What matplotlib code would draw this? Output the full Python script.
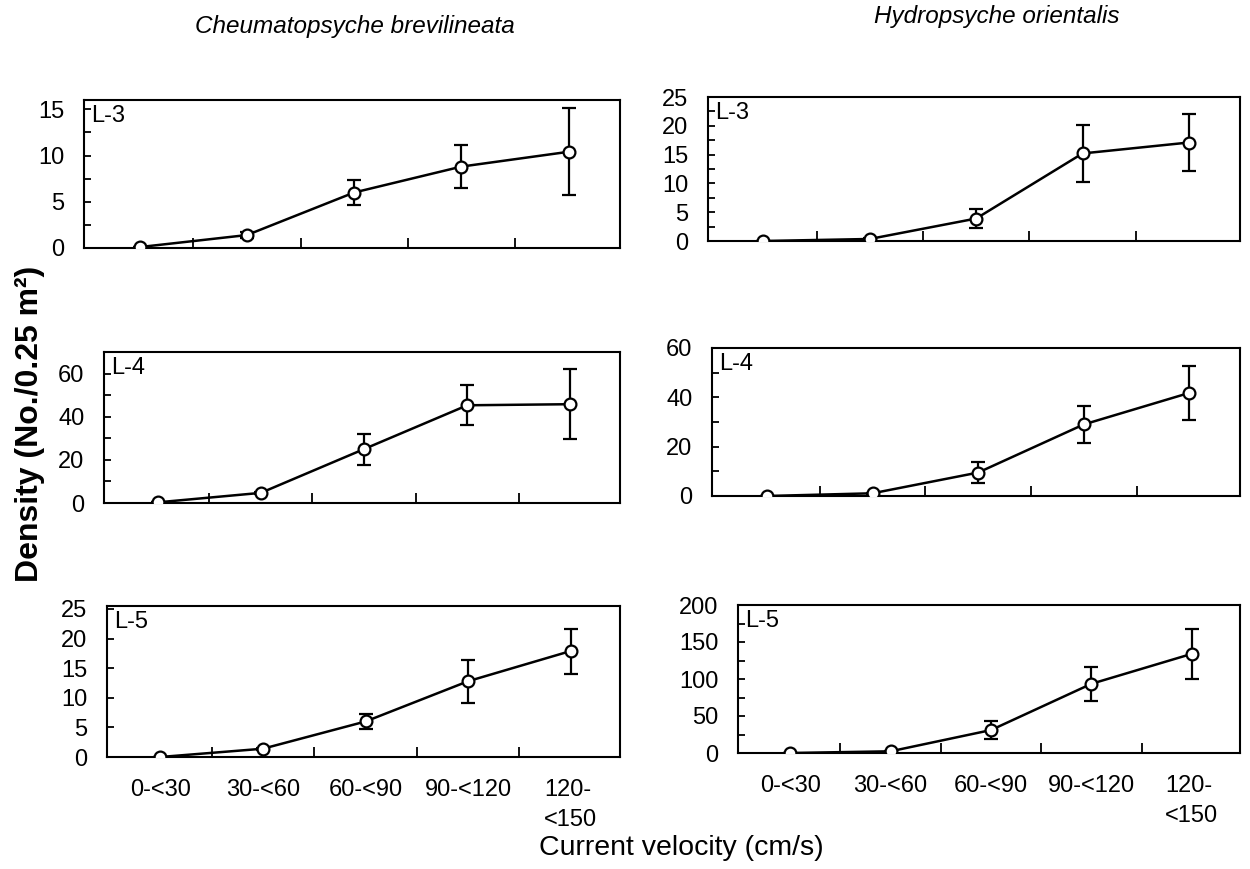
import matplotlib
matplotlib.use("Agg")
import matplotlib.pyplot as plt
from matplotlib.ticker import MultipleLocator, FixedLocator

plt.rcParams['font.family'] = ['Liberation Sans', 'DejaVu Sans']

categories = ["0-<30", "30-<60", "60-<90", "90-<120", "120-\n<150"]

# Cheumatopsyche brevilineata
cb_L3 = [0.1, 1.4, 6.0, 8.8, 10.4]
cb_L3_err = [0.0, 0.3, 1.3, 2.3, 4.7]
cb_L4 = [0.3, 4.7, 25.0, 45.3, 45.8]
cb_L4_err = [0.0, 0.5, 7.2, 9.3, 16.3]
cb_L5 = [0.0, 1.4, 6.0, 12.8, 17.9]
cb_L5_err = [0.0, 0.2, 1.2, 3.6, 3.8]

# Hydropsyche orientalis
ho_L3 = [0.0, 0.35, 3.9, 15.2, 17.1]
ho_L3_err = [0.0, 0.1, 1.6, 5.0, 5.0]
ho_L4 = [0.0, 1.1, 9.5, 29.0, 41.8]
ho_L4_err = [0.0, 0.3, 4.2, 7.5, 10.8]
ho_L5 = [0.0, 2.3, 31.0, 93.5, 134.0]
ho_L5_err = [0.0, 0.5, 12.0, 23.0, 34.0]

stages = ["L-3", "L-4", "L-5"]
titles = ["Cheumatopsyche brevilineata", "Hydropsyche orientalis"]

panels = [
    # (values, errors, ylim top, major, minor, rect in px: left, top, right, bottom)
    (cb_L3, cb_L3_err, 16, 5, 2.5, [84, 100, 620, 248]),
    (ho_L3, ho_L3_err, 25, 5, 2.5, [708, 97, 1240, 241]),
    (cb_L4, cb_L4_err, 70, 20, 10, [104, 352, 620, 503]),
    (ho_L4, ho_L4_err, 60, 20, 10, [712, 348, 1240, 496]),
    (cb_L5, cb_L5_err, 25.5, 5, 5, [107, 606, 620, 757]),
    (ho_L5, ho_L5_err, 200, 50, 25, [738, 605, 1240, 753]),
]

W, H = 1250, 869
fig = plt.figure(figsize=(W / 100, H / 100), dpi=100)

xs = list(range(len(categories)))
for i, (vals, errs, ytop, major, minor, (l, t, r, b)) in enumerate(panels):
    ax = fig.add_axes([l / W, 1 - b / H, (r - l) / W, (b - t) / H])
    ax.errorbar(xs, vals, yerr=errs, color='black', lw=1.8, capsize=5,
                elinewidth=1.6, capthick=1.6, marker='o', ms=8.5,
                mfc='white', mec='black', mew=1.6, zorder=3)
    ax.set_xlim(-0.52, 4.48)
    ax.set_ylim(0, ytop)
    ax.yaxis.set_major_locator(MultipleLocator(major))
    ax.yaxis.set_minor_locator(MultipleLocator(minor))
    ax.tick_params(axis='y', which='both', direction='in', length=5, width=1.3,
                   labelsize=17, pad=14)
    ax.xaxis.set_major_locator(FixedLocator(xs))
    ax.xaxis.set_minor_locator(FixedLocator([0.5, 1.5, 2.5, 3.5]))
    ax.tick_params(axis='x', which='major', length=0, labelsize=17, pad=16)
    ax.tick_params(axis='x', which='minor', direction='in', length=7, width=1.3)
    if i >= 4:
        ax.set_xticklabels(categories, ha='center', va='top', linespacing=1.45,
                           multialignment='left')
    else:
        ax.set_xticklabels([])
    for s in ax.spines.values():
        s.set_linewidth(1.5)
    ax.text(0.014, 0.965, stages[i // 2], transform=ax.transAxes, fontsize=17,
            ha='left', va='top')

fig.text(355 / W, 1 - 27 / H, titles[0], fontsize=17.5, style='italic',
         ha='center', va='center')
fig.text(997 / W, 1 - 16 / H, titles[1], fontsize=17.5, style='italic',
         ha='center', va='center')
fig.text(30 / W, 1 - 424 / H, "Density (No./0.25 m\u00b2)", rotation=90,
         fontsize=23, fontweight='bold', ha='center', va='center')
fig.text(681 / W, 1 - 848 / H, "Current velocity (cm/s)", fontsize=20.5,
         ha='center', va='center')

fig.savefig("out.png", dpi=100)
